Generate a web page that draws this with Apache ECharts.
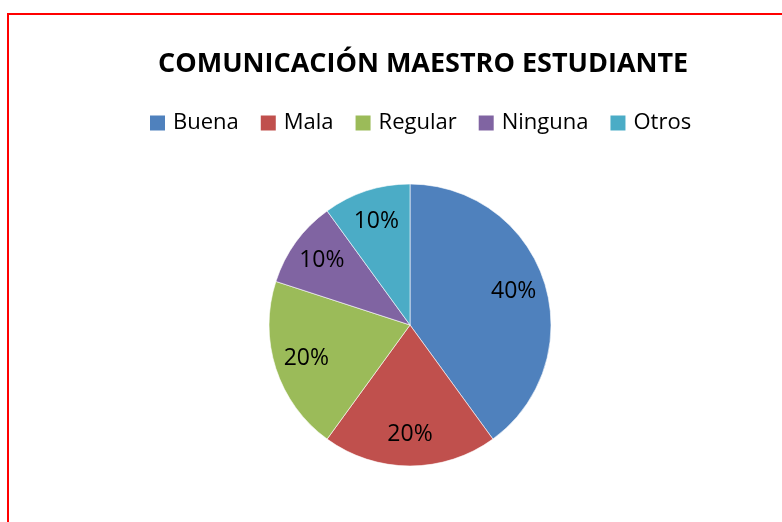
<!DOCTYPE html>
<html>
<head>
<meta charset="utf-8">
<script src="https://cdn.jsdelivr.net/npm/echarts@6/dist/echarts.min.js"></script>
<style>
html,body{margin:0;padding:0;background:#fff;overflow:hidden;}
#frame{position:absolute;left:7px;top:13px;width:900px;height:700px;border:2px solid #ff0000;box-sizing:border-box;}
#chart{position:absolute;left:0;top:0;width:782px;height:522px;}
</style>
</head>
<body>
<div id="frame"></div>
<div id="chart"></div>
<script>
const titleText = 'COMUNICACIÓN MAESTRO ESTUDIANTE';
const categories = ['Buena', 'Mala', 'Regular', 'Ninguna', 'Otros'];
const values = [40, 20, 20, 10, 10];
const colors = ['#4F81BD', '#C0504D', '#9BBB59', '#8064A2', '#4BACC6'];

const data = categories.map((c, i) => ({ name: c, value: values[i] }));
const font = '"Open Sans", "Noto Sans", sans-serif';
const chart = echarts.init(document.getElementById('chart'), null, { renderer: 'canvas' });
chart.setOption({
  backgroundColor: 'transparent',
  animation: false,
  color: colors,
  title: {
    text: titleText,
    left: 153, top: 46,
    textStyle: { fontFamily: font, fontWeight: 'bold', fontSize: 27, color: '#000' }
  },
  legend: {
    data: categories,
    left: 143, top: 107,
    itemWidth: 17, itemHeight: 17, itemGap: 20,
    icon: 'rect',
    textStyle: { fontFamily: font, fontSize: 22, color: '#000', padding: [0, 0, 0, 2] }
  },
  series: [
    {
      type: 'pie',
      center: [410, 325],
      radius: [0, 141],
      startAngle: 90,
      clockwise: true,
      data: data,
      itemStyle: { borderColor: '#ffffff', borderWidth: 0.6 },
      label: { show: false },
      labelLine: { show: false },
      emphasis: { disabled: true },
      silent: true
    },
    {
      type: 'pie',
      center: [410, 325],
      radius: [0, 212],
      startAngle: 90,
      clockwise: true,
      data: data,
      itemStyle: { color: 'rgba(0,0,0,0)' },
      label: {
        show: true, position: 'inside',
        formatter: p => Math.round(p.percent) + '%',
        fontFamily: font, fontSize: 23, color: '#000'
      },
      labelLine: { show: false },
      emphasis: { disabled: true },
      silent: true
    }
  ]
});
</script>
</body>
</html>
